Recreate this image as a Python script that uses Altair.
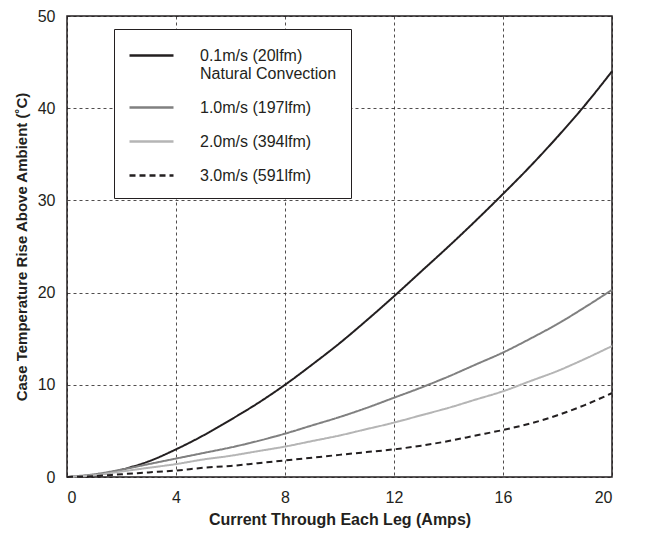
import altair as alt
import pandas as pd

amps = [0, 1, 2, 3, 4, 5, 6, 7, 8, 9, 10, 11, 12, 13, 14, 15, 16, 17, 18, 19, 20]
s01 = [0, 0.2, 0.8, 1.7, 3.0, 4.5, 6.2, 8.0, 10.0, 12.2, 14.5, 17.0, 19.6, 22.3, 25.0, 27.8, 30.7, 33.7, 36.9, 40.3, 44.0]
s10 = [0, 0.3, 0.8, 1.4, 2.0, 2.6, 3.2, 3.9, 4.7, 5.6, 6.5, 7.5, 8.6, 9.7, 10.9, 12.2, 13.5, 15.0, 16.6, 18.4, 20.3]
s20 = [0, 0.2, 0.6, 1.0, 1.4, 1.9, 2.3, 2.8, 3.3, 3.9, 4.5, 5.2, 5.9, 6.7, 7.5, 8.4, 9.3, 10.4, 11.5, 12.8, 14.2]
s30 = [0, 0.1, 0.3, 0.5, 0.7, 1.0, 1.2, 1.5, 1.8, 2.1, 2.4, 2.7, 3.0, 3.4, 3.9, 4.5, 5.1, 5.8, 6.7, 7.8, 9.1]
series = ["0.1m/s (20lfm)", "1.0m/s (197lfm)", "2.0m/s (394lfm)", "3.0m/s (591lfm)"]
colors = ["#231f20", "#808080", "#b5b5b5", "#231f20"]
dashes = [[1, 0], [1, 0], [1, 0], [6, 4]]

rows = []
for name, vals in zip(series, [s01, s10, s20, s30]):
    for a, v in zip(amps, vals):
        rows.append({"amps": a, "temp": v, "series": name})
df = pd.DataFrame(rows)

font = "Liberation Sans"

chart = alt.Chart(df).mark_line(strokeWidth=2, interpolate="monotone").encode(
    x=alt.X("amps:Q", scale=alt.Scale(domain=[0, 20], nice=False),
            axis=alt.Axis(values=[0, 4, 8, 12, 16, 20], title="Current Through Each Leg (Amps)")),
    y=alt.Y("temp:Q", scale=alt.Scale(domain=[0, 50], nice=False),
            axis=alt.Axis(values=[0, 10, 20, 30, 40, 50], title="Case Temperature Rise Above Ambient (˚C)")),
    color=alt.Color("series:N", scale=alt.Scale(domain=series, range=colors),
                    legend=alt.Legend(
                        title=None, orient="none", legendX=47, legendY=13,
                        strokeColor="#231f20", fillColor="white", padding=14,
                        symbolType="M-1,0L3,0", symbolSize=484, symbolStrokeWidth=2.5,
                        labelFont=font, labelFontSize=16, labelColor="#231f20",
                        labelOffset=47, rowPadding=13, labelLimit=300,
                        labelExpr="datum.label == '0.1m/s (20lfm)' ? ['0.1m/s (20lfm)', 'Natural Convection'] : datum.label")),
    strokeDash=alt.StrokeDash("series:N", scale=alt.Scale(domain=series, range=dashes), legend=None),
).properties(
    width=545, height=461,
    autosize=alt.AutoSizeParams(type="none"),
    padding={"left": 59, "top": 8, "right": 40, "bottom": 56},
).configure_view(
    stroke="#231f20", strokeWidth=1.5
).configure_axis(
    grid=True, gridColor="#231f20", gridDash=[3, 3], gridWidth=0.8, gridOpacity=1,
    domain=False, ticks=False, tickSize=0,
    labelFont=font, labelFontSize=16, labelColor="#231f20",
    titleFont=font, titleFontWeight="bold", titleColor="#231f20",
).configure_axisX(labelPadding=12, titlePadding=6, titleFontSize=16).configure_axisY(
    labelPadding=12, titlePadding=8, titleFontSize=15)

chart.save("out.html", embed_options={"renderer": "svg", "actions": False})
